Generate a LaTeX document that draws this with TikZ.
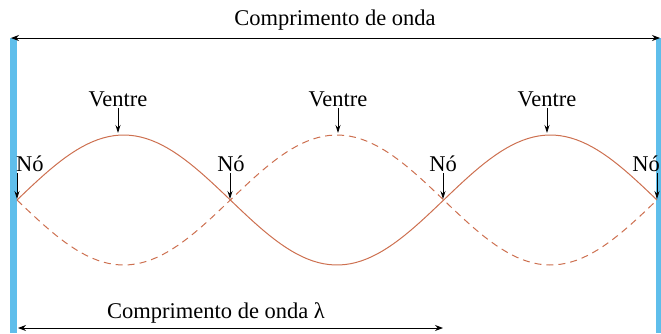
\documentclass[tikz,border=0pt]{standalone}
\usepackage{fontspec}
\setmainfont{Liberation Serif}
\usetikzlibrary{calc,arrows.meta}
\definecolor{wavecol}{RGB}{205,112,80}
\definecolor{wallcol}{RGB}{95,190,235}
\begin{document}
\begin{tikzpicture} [
    x=1pt, y=-1pt,
    wave/.style={wavecol, line width=1pt},
    wavedash/.style={wave, dash pattern=on 7pt off 5pt},
    lbl/.style={font=\fontsize{22.5}{24}\selectfont, inner sep=1pt},
    pointer/.style={draw, -{Stealth[length=8pt,width=5pt]}, thick},
    span/.style={draw, {Stealth[length=8pt,width=6pt]}-{Stealth[length=8pt,width=6pt]}, thick},
    wall/.style={fill=wallcol, draw=none}
  ]
  \useasboundingbox (0,0) rectangle (661,333);
  % walls
  \fill[wall] (10,38) rectangle (17,333);
  \fill[wall] (656,38) rectangle (661,333);
  % standing wave
  \draw[wave] plot[domain=17:657, samples=120] (\x, {200-65*sin((\x-17)/213.33*180)});
  \draw[wavedash] plot[domain=17:657, samples=120] (\x, {200+65*sin((\x-17)/213.33*180)});
  % nodes and antinodes on the wave
  \coordinate (n0) at (17,199);
  \coordinate (n1) at (230,199);
  \coordinate (n2) at (443,199);
  \coordinate (n3) at (657,199);
  \coordinate (v1) at (118,133);
  \coordinate (v2) at (338,133);
  \coordinate (v3) at (547,133);
  \node[lbl, anchor=south west] (lblN0) at (15,173) {Nó};
  \node[lbl, anchor=south] (lblN1) at (231,173) {Nó};
  \node[lbl, anchor=south] (lblN2) at (443,173) {Nó};
  \node[lbl, anchor=south east] (lblN3) at (661,173) {Nó};
  \foreach \n in {0,...,3}
    \draw[pointer] (n\n |- lblN\n.south) -- (n\n);
  \foreach \v in {1,2,3}{
    \node[lbl, anchor=south] (lblV\v) at ($(v\v)+(0,-25)$) {Ventre};
    \draw[pointer] (lblV\v.south) -- (v\v);
  }
  % wavelength spans
  \coordinate (topL) at (11,38);
  \coordinate (topR) at (660,38);
  \draw[span] (topL) -- (topR);
  \node[lbl] (lblTop) at (335,20) {Comprimento de onda};
  \coordinate (botL) at (18,328);
  \coordinate (botR) at (443,328);
  \draw[span] (botL) -- (botR);
  \node[lbl] (lblBot) at (216,313) {Comprimento de onda λ};
\end{tikzpicture}
\end{document}
